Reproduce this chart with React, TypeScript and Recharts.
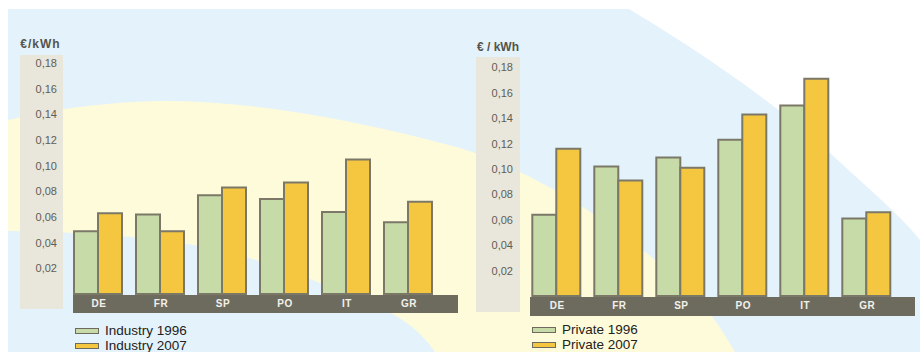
import React from 'react';
import { BarChart, Bar, XAxis, YAxis } from 'recharts';

// Electricity prices (€/kWh) by country, 1996 vs 2007
const countries = ['DE', 'FR', 'SP', 'PO', 'IT', 'GR'];
const industry1996 = [0.049, 0.062, 0.077, 0.074, 0.064, 0.056];
const industry2007 = [0.063, 0.049, 0.083, 0.087, 0.105, 0.072];
const private1996 = [0.064, 0.102, 0.109, 0.123, 0.15, 0.061];
const private2007 = [0.116, 0.091, 0.101, 0.143, 0.171, 0.066];
const yTicks = [0.02, 0.04, 0.06, 0.08, 0.1, 0.12, 0.14, 0.16, 0.18];
const unitLabel = ['€/kWh', '€ / kWh'];
const industryNames = ['Industry 1996', 'Industry 2007'];
const privateNames = ['Private 1996', 'Private 2007'];

const industryData = countries.map((c, i) => ({ country: c, a: industry1996[i], b: industry2007[i] }));
const privateData = countries.map((c, i) => ({ country: c, a: private1996[i], b: private2007[i] }));

const GREEN = '#c6dba8';
const ORANGE = '#f5c741';
const OUTLINE = '#7b7868';
const BEIGE = '#e9e6dc';
const DARK = '#6d6b5e';
const BLUE = '#e4f2fb';
const CREAM = '#fefbdb';
const TEXT = '#5f5e55';
const FONT = '"Liberation Sans", Arial, sans-serif';

const fmt = (v: number) => v.toFixed(2).replace('.', ',');

const CountryTick = (props: any) => {
  const { x, y, payload } = props;
  return (
    <text x={x + 1} y={y + 9.5} dy="0.35em" textAnchor="middle" fill="#f2f1ea" fontSize={10} fontWeight="bold" fontFamily={FONT} letterSpacing={0.5}>
      {payload.value}
    </text>
  );
};

const Backdrop = () => (
  <svg width={920} height={352} style={{ position: 'absolute', left: 0, top: 0 }}>
    <rect x={8} y={9} width={912} height={343} fill={BLUE} />
    <path
      d="M 8 120 C 50 110, 110 101, 165 101 C 250 101, 350 118, 460 148 C 560 180, 640 245, 690 290 C 710 310, 725 335, 735 352 L 435 352 C 420 330, 400 316, 380 308 C 340 292, 280 262, 200 246 C 140 236, 80 232, 8 231 Z"
      fill={CREAM}
    />
    <path d="M 629 9 C 680 40, 760 90, 830 153 C 870 190, 900 215, 920 240 L 920 0 L 629 0 Z" fill="#ffffff" />
    {/* tick label columns */}
    <rect x={20} y={55} width={43} height={254} fill={BEIGE} />
    <rect x={476} y={57} width={44} height={255} fill={BEIGE} />
    {/* category bands */}
    <rect x={73} y={295} width={385} height={18} fill={DARK} />
    <rect x={530} y={297} width={385} height={19} fill={DARK} />
    <text x={40.5} y={44} dy="0.35em" textAnchor="middle" fill="#55544c" fontSize={12} fontWeight="bold" fontFamily={FONT} letterSpacing={1}>
      {unitLabel[0]}
    </text>
    <text x={498} y={47} dy="0.35em" textAnchor="middle" fill="#55544c" fontSize={12} fontWeight="bold" fontFamily={FONT}>
      {unitLabel[1]}
    </text>
  </svg>
);

const LegendBlock = ({ names, left, top }: { names: string[]; left: number; top: number }) => (
  <div style={{ position: 'absolute', left, top, fontFamily: FONT, fontSize: 13.5, color: '#222', lineHeight: '14.5px' }}>
    {names.map((n, i) => (
      <div key={n} style={{ display: 'flex', alignItems: 'center', height: 14.5 }}>
        <span
          style={{
            display: 'inline-block',
            width: 22,
            height: 4,
            background: i === 0 ? GREEN : ORANGE,
            border: `1.2px solid ${DARK}`,
            marginRight: 6,
          }}
        />
        <span>{n}</span>
      </div>
    ))}
  </div>
);

const PriceChart = ({ data, left, top, marginTop, marginLeft, marginRight, marginBottom, tickMargin }: any) => (
  <div style={{ position: 'absolute', left, top }}>
    <BarChart
      width={460}
      height={352}
      data={data}
      margin={{ top: marginTop, left: marginLeft, right: marginRight, bottom: marginBottom }}
      barGap={0}
      barSize={24}
    >
      <XAxis dataKey="country" axisLine={false} tickLine={false} tickSize={0} tickMargin={0} height={20} tick={<CountryTick />} interval={0} />
      <YAxis
        domain={[0, 0.18]}
        ticks={yTicks}
        tickFormatter={fmt}
        axisLine={false}
        tickLine={false}
        tickSize={0}
        tickMargin={tickMargin}
        width={40}
        interval={0}
        tick={{ fill: TEXT, fontSize: 11, fontFamily: FONT }}
      />
      <Bar dataKey="a" fill={GREEN} stroke={OUTLINE} strokeWidth={2} isAnimationActive={false} />
      <Bar dataKey="b" fill={ORANGE} stroke={OUTLINE} strokeWidth={2} isAnimationActive={false} />
    </BarChart>
  </div>
);

export default function App() {
  return (
    <div style={{ position: 'absolute', left: 0, top: 0, width: 920, height: 352, overflow: 'hidden', background: '#ffffff' }}>
      <Backdrop />
      <PriceChart data={industryData} left={0} top={0} marginTop={63.3} marginLeft={27} marginRight={21} marginBottom={38.1} tickMargin={10} />
      <PriceChart data={privateData} left={460} top={0} marginTop={67.4} marginLeft={25.3} marginRight={22.7} marginBottom={36} tickMargin={12.3} />
      <LegendBlock names={industryNames} left={75} top={324} />
      <LegendBlock names={privateNames} left={532} top={323} />
    </div>
  );
}
